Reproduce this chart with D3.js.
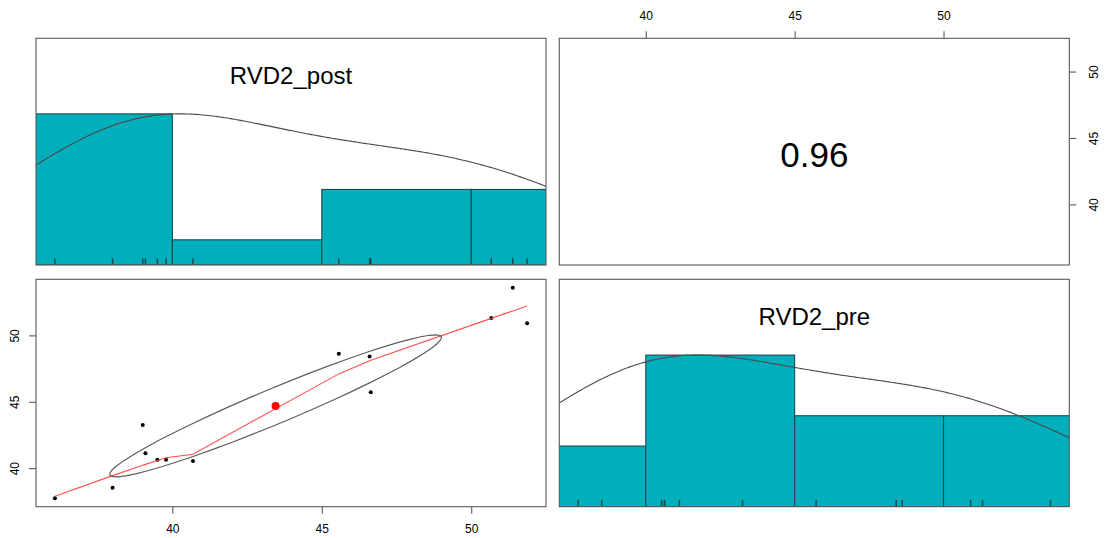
<!DOCTYPE html>
<html>
<head>
<meta charset="utf-8">
<script src="https://cdn.jsdelivr.net/npm/d3@7"></script>
<style>
  body { margin: 0; background: #fff; }
  text { font-family: "Liberation Sans", Arial, Helvetica, sans-serif; fill: #000; }
</style>
</head>
<body>
<svg id="chart" width="1105" height="538"></svg>
<script>
// ---- data ----
const varNames = ["RVD2_post", "RVD2_pre"];
const rvd2Post = [36.07, 38.00, 39.01, 39.10, 39.50, 39.79, 40.69, 45.57, 46.60, 46.64, 50.67, 51.39, 51.87];
const rvd2Pre  = [37.73, 38.52, 43.25, 41.13, 40.63, 40.63, 40.53, 48.61, 48.41, 45.72, 51.31, 53.59, 50.91];
const tickValues = [40, 45, 50];
const histBreaks = [35, 40, 45, 50, 55];

// ---- layout ----
const colX = [[36, 546], [559.3, 1069.3]];
const rowY = [[38.3, 265], [279.3, 506.7]];
const histColor = "#00AFBB";
const frameColor = "#5a5a5a";
const barEdge = "#1b4a50";

const svg = d3.select("#chart");
const vars = [rvd2Post, rvd2Pre];

// R-style extended range (4% each side)
function extRange(v) {
  const [a, b] = d3.extent(v);
  const d = 0.04 * (b - a);
  return [a - d, b + d];
}
const xScales = vars.map((v, i) => d3.scaleLinear().domain(extRange(v)).range(colX[i]));
const yScales = vars.map((v, i) => d3.scaleLinear().domain(extRange(v)).range([rowY[i][1], rowY[i][0]]));

// ---- statistics ----
function quantile7(v, p) {
  const s = v.slice().sort((a, b) => a - b);
  const h = (s.length - 1) * p, lo = Math.floor(h);
  return s[lo] + (h - lo) * ((s[Math.min(lo + 1, s.length - 1)]) - s[lo]);
}
function bwNrd(v) {
  const h = (quantile7(v, 0.75) - quantile7(v, 0.25)) / 1.34;
  return 1.06 * Math.min(d3.deviation(v), h) * Math.pow(v.length, -1 / 5);
}
function kde(v, adjust) {
  const bw = bwNrd(v) * adjust;
  const [a, b] = d3.extent(v);
  const from = a - 3 * bw, to = b + 3 * bw, n = 512;
  const pts = d3.range(n).map(k => {
    const x = from + (to - from) * k / (n - 1);
    const y = d3.sum(v, xi => Math.exp(-0.5 * ((x - xi) / bw) ** 2)) / (v.length * bw * Math.sqrt(2 * Math.PI));
    return [x, y];
  });
  const m = d3.max(pts, p => p[1]);
  return pts.map(p => [p[0], p[1] / m]);
}
function pearson(a, b) {
  const ma = d3.mean(a), mb = d3.mean(b);
  let sab = 0, saa = 0, sbb = 0;
  a.forEach((ai, i) => { sab += (ai - ma) * (b[i] - mb); saa += (ai - ma) ** 2; sbb += (b[i] - mb) ** 2; });
  return sab / Math.sqrt(saa * sbb);
}
// port of the classic clowess smoother
function lowess(xIn, yIn, f = 2 / 3, nsteps = 3) {
  const n = xIn.length;
  const ord = d3.range(n).sort((p, q) => xIn[p] - xIn[q]);
  const x = [0, ...ord.map(i => xIn[i])];
  const y = [0, ...ord.map(i => yIn[i])];
  const delta = 0.01 * (x[n] - x[1]);
  const ys = new Array(n + 1).fill(0), rw = new Array(n + 1).fill(1), w = new Array(n + 1).fill(0);
  const ns = Math.max(2, Math.min(n, Math.floor(f * n + 1e-7)));
  function lowest(xs, nleft, nright, userw) {
    const range = x[n] - x[1];
    const h = Math.max(xs - x[nleft], x[nright] - xs);
    const h9 = 0.999 * h, h1 = 0.001 * h;
    let a = 0, j = nleft;
    while (j <= n) {
      w[j] = 0;
      const r = Math.abs(x[j] - xs);
      if (r <= h9) {
        w[j] = r <= h1 ? 1 : Math.pow(1 - Math.pow(r / h, 3), 3);
        if (userw) w[j] *= rw[j];
        a += w[j];
      } else if (x[j] > xs) break;
      j++;
    }
    const nrt = j - 1;
    if (a <= 0) return null;
    for (j = nleft; j <= nrt; j++) w[j] /= a;
    if (h > 0) {
      a = 0;
      for (j = nleft; j <= nrt; j++) a += w[j] * x[j];
      let b = xs - a, c = 0;
      for (j = nleft; j <= nrt; j++) c += w[j] * (x[j] - a) * (x[j] - a);
      if (Math.sqrt(c) > 0.001 * range) {
        b /= c;
        for (j = nleft; j <= nrt; j++) w[j] *= (b * (x[j] - a) + 1);
      }
    }
    let v = 0;
    for (j = nleft; j <= nrt; j++) v += w[j] * y[j];
    return v;
  }
  let iter = 1;
  const res = new Array(n + 1).fill(0);
  while (iter <= nsteps + 1) {
    let nleft = 1, nright = ns, last = 0, i = 1;
    for (;;) {
      if (nright < n) {
        const d1 = x[i] - x[nleft], d2 = x[nright + 1] - x[i];
        if (d1 > d2) { nleft++; nright++; continue; }
      }
      const val = lowest(x[i], nleft, nright, iter > 1);
      ys[i] = val === null ? y[i] : val;
      if (last < i - 1) {
        const denom = x[i] - x[last];
        for (let j = last + 1; j < i; j++) {
          const al = (x[j] - x[last]) / denom;
          ys[j] = al * ys[i] + (1 - al) * ys[last];
        }
      }
      last = i;
      const cut = x[last] + delta;
      for (i = last + 1; i <= n; i++) {
        if (x[i] > cut) break;
        if (x[i] === x[last]) { ys[i] = ys[last]; last = i; }
      }
      i = Math.max(last + 1, i - 1);
      if (last >= n) break;
    }
    for (let k = 1; k <= n; k++) res[k] = y[k] - ys[k];
    let sc = 0;
    for (let k = 1; k <= n; k++) sc += Math.abs(res[k]);
    sc /= n;
    if (iter > nsteps) break;
    const sorted = res.slice(1).map(Math.abs).sort((p, q) => p - q);
    const m1 = Math.floor(n / 2);
    const cmad = n % 2 === 0 ? 3 * (sorted[m1] + sorted[n - m1 - 1]) : 6 * sorted[m1];
    if (cmad < 1e-7 * sc) break;
    const c9 = 0.999 * cmad, c1 = 0.001 * cmad;
    for (let k = 1; k <= n; k++) {
      const r = Math.abs(res[k]);
      rw[k] = r <= c1 ? 1 : (r <= c9 ? (1 - (r / cmad) ** 2) ** 2 : 0);
    }
    iter++;
  }
  return d3.range(1, n + 1).map(k => [x[k], ys[k]]);
}

// ---- clip paths for every panel ----
const defs = svg.append("defs");
[0, 1].forEach(r => [0, 1].forEach(c => {
  defs.append("clipPath").attr("id", `clip-${r}-${c}`)
    .append("rect")
    .attr("x", colX[c][0]).attr("y", rowY[r][0])
    .attr("width", colX[c][1] - colX[c][0]).attr("height", rowY[r][1] - rowY[r][0]);
}));

// ---- diagonal panels: histogram + density + rug + name ----
function drawDiag(i) {
  const v = vars[i];
  const xs = xScales[i];
  const [y0, y1] = rowY[i];
  const hy = d3.scaleLinear().domain([0, 1.5]).range([y1, y0]);
  const g = svg.append("g").attr("clip-path", `url(#clip-${i}-${i})`);
  const bins = d3.bin().domain([histBreaks[0], histBreaks[histBreaks.length - 1]]).thresholds(histBreaks.slice(1, -1))(v);
  const maxCount = d3.max(bins, b => b.length);
  g.selectAll("rect.bar").data(bins).join("rect").attr("class", "bar")
    .attr("x", b => xs(b.x0)).attr("width", b => xs(b.x1) - xs(b.x0))
    .attr("y", b => hy(b.length / maxCount)).attr("height", b => hy(0) - hy(b.length / maxCount))
    .attr("fill", histColor).attr("stroke", barEdge).attr("stroke-width", 1.1);
  const dens = kde(v, 1.2);
  g.append("path").datum(dens)
    .attr("d", d3.line().x(d => xs(d[0])).y(d => hy(d[1])))
    .attr("fill", "none").attr("stroke", "#4a4a4a").attr("stroke-width", 1.1);
  const tick = 0.03 * (y1 - y0);
  g.selectAll("line.rug").data(v).join("line").attr("class", "rug")
    .attr("x1", d => xs(d)).attr("x2", d => xs(d))
    .attr("y1", y1).attr("y2", y1 - tick)
    .attr("stroke", barEdge).attr("stroke-width", 1.5);
  svg.append("text")
    .attr("x", (colX[i][0] + colX[i][1]) / 2).attr("y", y0 + 45.5)
    .attr("text-anchor", "middle").attr("font-size", 24)
    .text(varNames[i]);
}
drawDiag(0);
drawDiag(1);

// ---- lower panel: scatter, lowess, correlation ellipse ----
(function drawLower() {
  const xv = vars[0], yv = vars[1];
  const xs = xScales[0], ys = yScales[1];
  const g = svg.append("g").attr("clip-path", "url(#clip-1-0)");
  g.selectAll("circle.pt").data(xv).join("circle").attr("class", "pt")
    .attr("cx", d => xs(d)).attr("cy", (d, k) => ys(yv[k])).attr("r", 2).attr("fill", "#000");
  const smooth = lowess(xv, yv);
  g.append("path").datum(smooth)
    .attr("d", d3.line().x(d => xs(d[0])).y(d => ys(d[1])))
    .attr("fill", "none").attr("stroke", "#ff3030").attr("stroke-width", 1.1).attr("stroke-opacity", 0.85);
  const xm = d3.mean(xv), ym = d3.mean(yv), sx = d3.deviation(xv), sy = d3.deviation(yv);
  const r = pearson(xv, yv);
  const th = Math.sign(r) / Math.SQRT2;
  const a = Math.sqrt(1 + r) * th, b = Math.sqrt(1 - r) * th;
  const ell = d3.range(52).map(k => {
    const t = k * 2 * Math.PI / 51;
    const ex = Math.cos(t) * a - Math.sin(t) * b;
    const ey = Math.cos(t) * a + Math.sin(t) * b;
    return [ex * sx + xm, ey * sy + ym];
  });
  g.append("circle").attr("cx", xs(xm)).attr("cy", ys(ym)).attr("r", 4).attr("fill", "red");
  g.append("path").datum(ell)
    .attr("d", d3.line().x(d => xs(d[0])).y(d => ys(d[1])))
    .attr("fill", "none").attr("stroke", "#5e5e5e").attr("stroke-width", 1.2);
})();

// ---- upper panel: correlation value ----
(function drawUpper() {
  const r = pearson(vars[0], vars[1]);
  svg.append("text")
    .attr("x", (colX[1][0] + colX[1][1]) / 2).attr("y", 166.5)
    .attr("text-anchor", "middle").attr("font-size", 35)
    .text(r.toFixed(2));
})();

// ---- panel frames ----
[0, 1].forEach(r => [0, 1].forEach(c => {
  svg.append("rect")
    .attr("x", colX[c][0]).attr("y", rowY[r][0])
    .attr("width", colX[c][1] - colX[c][0]).attr("height", rowY[r][1] - rowY[r][0])
    .attr("fill", "none").attr("stroke", frameColor).attr("stroke-width", 1.1);
}));

// ---- outer axes ----
function styleAxis(g) {
  g.select(".domain").remove();
  g.selectAll(".tick line").attr("stroke", frameColor).attr("stroke-width", 1.1);
  g.selectAll(".tick text").attr("font-size", 12).attr("fill", "#111")
    .style("font-family", '"Liberation Sans", Arial, sans-serif');
}
// top axis over column 2
svg.append("g").attr("transform", `translate(0,${rowY[0][0]})`)
  .call(d3.axisTop(xScales[1]).tickValues(tickValues).tickSize(7).tickSizeOuter(0).tickPadding(11))
  .call(styleAxis);
// bottom axis under column 1
svg.append("g").attr("transform", `translate(0,${rowY[1][1]})`)
  .call(d3.axisBottom(xScales[0]).tickValues(tickValues).tickSize(7).tickSizeOuter(0).tickPadding(11))
  .call(styleAxis);
// left axis beside row 2
svg.append("g").attr("transform", `translate(${colX[0][0]},0)`)
  .call(d3.axisLeft(yScales[1]).tickValues(tickValues).tickSize(7).tickSizeOuter(0))
  .call(styleAxis)
  .call(g => g.selectAll(".tick text")
    .attr("x", null).attr("dy", "0.35em").attr("text-anchor", "middle")
    .attr("transform", "translate(-21,0) rotate(-90)"));
// right axis beside row 1
svg.append("g").attr("transform", `translate(${colX[1][1]},0)`)
  .call(d3.axisRight(yScales[0]).tickValues(tickValues).tickSize(7).tickSizeOuter(0))
  .call(styleAxis)
  .call(g => g.selectAll(".tick text")
    .attr("x", null).attr("dy", "0.35em").attr("text-anchor", "middle")
    .attr("transform", "translate(24,0) rotate(-90)"));
</script>
</body>
</html>
